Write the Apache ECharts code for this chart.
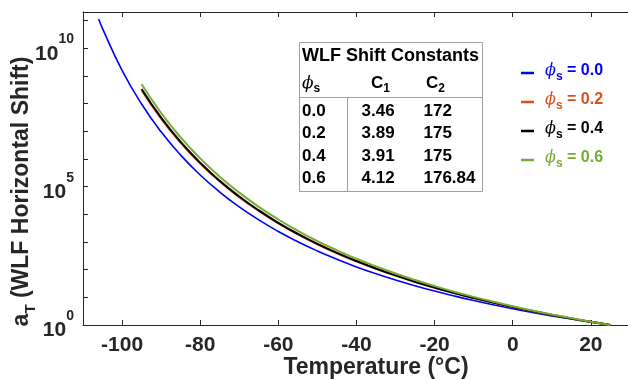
<!DOCTYPE html>
<html>
<head>
<meta charset="utf-8">
<script src="https://cdn.jsdelivr.net/npm/echarts@6/dist/echarts.min.js"></script>
<style>html,body{margin:0;padding:0;background:#fff}#c{width:628px;height:379px}</style>
</head>
<body>
<div id="c"></div>
<script>
// ---- Data (aT values on a log scale) ----
const tempPhi00 = [-106,-105,-100,-95,-90,-85,-80,-75,-70,-65,-60,-55,-50,-45,-40,-35,-30,-25,-20,-15,-10,-5,0,5,10,15,20,25];
const aT_phi00 = [1.14e11,5.13e10,1.59e9,9.66e7,9.57e6,1.38e6,2.64e5,6.40e4,1.86e4,6.28e3,2.40e3,1.02e3,473,237,126,71.4,42.3,26.2,16.8,11.2,7.66,5.38,3.87,2.85,2.14,1.64,1.27,1];
const tempPhiOther = [-95,-90,-85,-80,-75,-70,-65,-60,-55,-50,-45,-40,-35,-30,-25,-20,-15,-10,-5,0,5,10,15,20,25];
const aT_phi02 = [3.07e8,2.86e7,3.83e6,6.84e5,1.54e5,4.16e4,1.32e4,4.72e3,1.89e3,828,392,199,107,60.7,36.0,22.2,14.2,9.39,6.38,4.45,3.18,2.32,1.72,1.30,1];
const aT_phi04 = [3.40e8,3.12e7,4.14e6,7.33e5,1.63e5,4.40e4,1.38e4,4.93e3,1.96e3,857,404,205,110,61.9,36.6,22.6,14.4,9.50,6.44,4.49,3.20,2.33,1.73,1.30,1];
const aT_phi06 = [4.99e8,4.59e7,6.03e6,1.05e6,2.30e5,6.07e4,1.86e4,6.50e3,2.54e3,1.08e3,500,248,131,72.4,42.1,25.5,16.0,10.4,6.95,4.76,3.35,2.41,1.77,1.32,1];

const phiLabels = ['0.0','0.2','0.4','0.6'];
const seriesColors = ['#0000ff','#d95319','#000000','#77ac30'];
const xTicks = [-100,-80,-60,-40,-20,0,20,40];
const yTicks = [1,1e1,1e2,1e3,1e4,1e5,1e6,1e7,1e8,1e9,1e10,1e11];
const yLabelTicks = [1,1e5,1e10];

// Table of WLF constants
const tablePhi = ['0.0','0.2','0.4','0.6'];
const tableC1 = ['3.46','3.89','3.91','4.12'];
const tableC2 = ['172','175','175','176.84'];

const FONT = 'Liberation Sans, Arial, Helvetica, sans-serif';
const TXT = '#262626';

function zip(xs, ys){ return xs.map((x,i)=>[x, ys[i]]); }

const seriesData = [
  zip(tempPhi00, aT_phi00),
  zip(tempPhiOther, aT_phi02),
  zip(tempPhiOther, aT_phi04),
  zip(tempPhiOther, aT_phi06)
];

const chart = echarts.init(document.getElementById('c'), null, {renderer:'canvas'});

const subRich = (base) => ({
  c:{fontFamily: base === 'phi' ? 'DejaVu Serif' : FONT, fontStyle: base === 'phi' ? 'italic' : 'normal',
     fontWeight: base === 'phi' ? 'normal' : 'bold', fontSize:17, lineHeight:20, verticalAlign:'top'},
  s:{fontFamily:FONT, fontWeight:'bold', fontSize:12, lineHeight:12, verticalAlign:'bottom'}
});

// table graphics
const tbl = {x0:299.5, x1:482.5, y0:42.5, y1:191.5, yh:97.5, xv:347.5};
const rowY = [111,133.5,156,178.5];
const graphics = [
  {type:'rect', shape:{x:tbl.x0, y:tbl.y0, width:tbl.x1-tbl.x0, height:tbl.y1-tbl.y0}, style:{fill:'#fff', stroke:'#a0a0a0', lineWidth:1}, z:10},
  {type:'line', shape:{x1:tbl.x0, y1:tbl.yh, x2:tbl.x1, y2:tbl.yh}, style:{stroke:'#a0a0a0', lineWidth:1}, z:11},
  {type:'line', shape:{x1:tbl.xv, y1:tbl.yh, x2:tbl.xv, y2:tbl.y1}, style:{stroke:'#a0a0a0', lineWidth:1}, z:11},
  {type:'text', x:302, y:56, style:{text:'WLF Shift Constants', font:'bold 18px '+FONT, fill:'#000', verticalAlign:'middle'}, z:12},
  {type:'text', x:302, y:85, style:{text:'{c|ϕ}{s|s}', fill:'#000', verticalAlign:'middle', rich:subRich('phi')}, z:12},
  {type:'text', x:371, y:85, style:{text:'{c|C}{s|1}', fill:'#000', verticalAlign:'middle', rich:subRich('C')}, z:12},
  {type:'text', x:426, y:85, style:{text:'{c|C}{s|2}', fill:'#000', verticalAlign:'middle', rich:subRich('C')}, z:12}
];
tablePhi.forEach((p,i)=>{
  graphics.push({type:'text', x:302, y:rowY[i], style:{text:p, font:'bold 17px '+FONT, fill:'#000', verticalAlign:'middle'}, z:12});
  graphics.push({type:'text', x:361.5, y:rowY[i], style:{text:tableC1[i], font:'bold 17px '+FONT, fill:'#000', verticalAlign:'middle'}, z:12});
  graphics.push({type:'text', x:423.5, y:rowY[i], style:{text:tableC2[i], font:'bold 17px '+FONT, fill:'#000', verticalAlign:'middle'}, z:12});
});

const legendData = phiLabels.map((p,i)=>({
  name: 'φs = ' + p,
  itemStyle:{color:seriesColors[i]},
  textStyle:{color:seriesColors[i]}
}));

const option = {
  animation:false,
  backgroundColor:'#fff',
  grid:{left:83, right:-41, top:12, bottom:54, containLabel:false, outerBoundsMode:'none'},
  legend:{
    orient:'vertical', left:516, top:58, itemGap:9,
    icon:'rect', itemWidth:13, itemHeight:2.5,
    data: legendData,
    formatter: function(name){ return '{p|ϕ}{s|s}{v| = ' + name.split('= ')[1] + '}'; },
    textStyle:{
      fontFamily:FONT, fontWeight:'bold', fontSize:16,
      rich:{
        p:{fontFamily:'DejaVu Serif', fontStyle:'italic', fontWeight:'normal', fontSize:16, lineHeight:20, verticalAlign:'top', padding:[0,0,0,6]},
        s:{fontFamily:FONT, fontWeight:'bold', fontSize:12, lineHeight:12, verticalAlign:'bottom'},
        v:{fontFamily:FONT, fontWeight:'bold', fontSize:16, lineHeight:20, verticalAlign:'top'}
      }
    }
  },
  xAxis:[{
    type:'value', min:-110, max:40, position:'bottom',
    name:'Temperature (°C)', nameLocation:'middle', nameGap:31, nameMoveOverlap:false,
    nameTextStyle:{fontFamily:FONT, fontWeight:'bold', fontSize:23, color:TXT},
    axisLine:{show:true, onZero:false, lineStyle:{color:TXT, width:1}},
    axisTick:{show:true, inside:true, length:5, customValues:xTicks, lineStyle:{color:TXT}},
    axisLabel:{show:true, customValues:xTicks, margin:10, fontFamily:FONT, fontWeight:'bold', fontSize:21, color:TXT},
    splitLine:{show:false}
  },{
    type:'value', min:-110, max:40, position:'top',
    axisLine:{show:true, onZero:false, lineStyle:{color:TXT, width:1}},
    axisTick:{show:true, inside:true, length:5, customValues:xTicks, lineStyle:{color:TXT}},
    axisLabel:{show:false},
    splitLine:{show:false}
  }],
  yAxis:{
    type:'log', logBase:10, min:1, max:2.05e11,
    name:'{a|a}{t|T}{b| (WLF Horizontal Shift)}', nameLocation:'middle', nameGap:45, nameMoveOverlap:false,
    nameTextStyle:{fontFamily:FONT, fontWeight:'bold', fontSize:23, color:TXT, padding:[0,46,0,0],
      rich:{
        a:{fontFamily:FONT, fontWeight:'bold', fontSize:23, lineHeight:28, verticalAlign:'top', color:TXT},
        t:{fontFamily:FONT, fontWeight:'bold', fontSize:15, lineHeight:15, verticalAlign:'bottom', color:TXT},
        b:{fontFamily:FONT, fontWeight:'bold', fontSize:23, lineHeight:28, verticalAlign:'top', color:TXT}
      }},
    axisLine:{show:true, onZero:false, lineStyle:{color:TXT, width:1}},
    axisTick:{show:true, inside:true, length:5, customValues:yTicks, lineStyle:{color:TXT}},
    axisLabel:{show:true, customValues:yLabelTicks, margin:9,
      formatter:function(v){ return '{b|10}{s|' + Math.round(Math.log10(v)) + '}'; },
      rich:{
        b:{fontFamily:FONT, fontWeight:'bold', fontSize:21, lineHeight:32, verticalAlign:'bottom', color:TXT},
        s:{fontFamily:FONT, fontWeight:'bold', fontSize:14, lineHeight:16, verticalAlign:'top', color:TXT}
      }},
    splitLine:{show:false}
  },
  graphic: graphics,
  series: phiLabels.map((p,i)=>({
    name: 'φs = ' + p,
    type:'line', xAxisIndex:0, smooth:true, showSymbol:false, symbol:'none',
    lineStyle:{color:seriesColors[i], width: i===0 ? 1.6 : 2},
    itemStyle:{color:seriesColors[i]},
    data: seriesData[i], z:2+i
  }))
};
chart.setOption(option);
</script>
</body>
</html>
